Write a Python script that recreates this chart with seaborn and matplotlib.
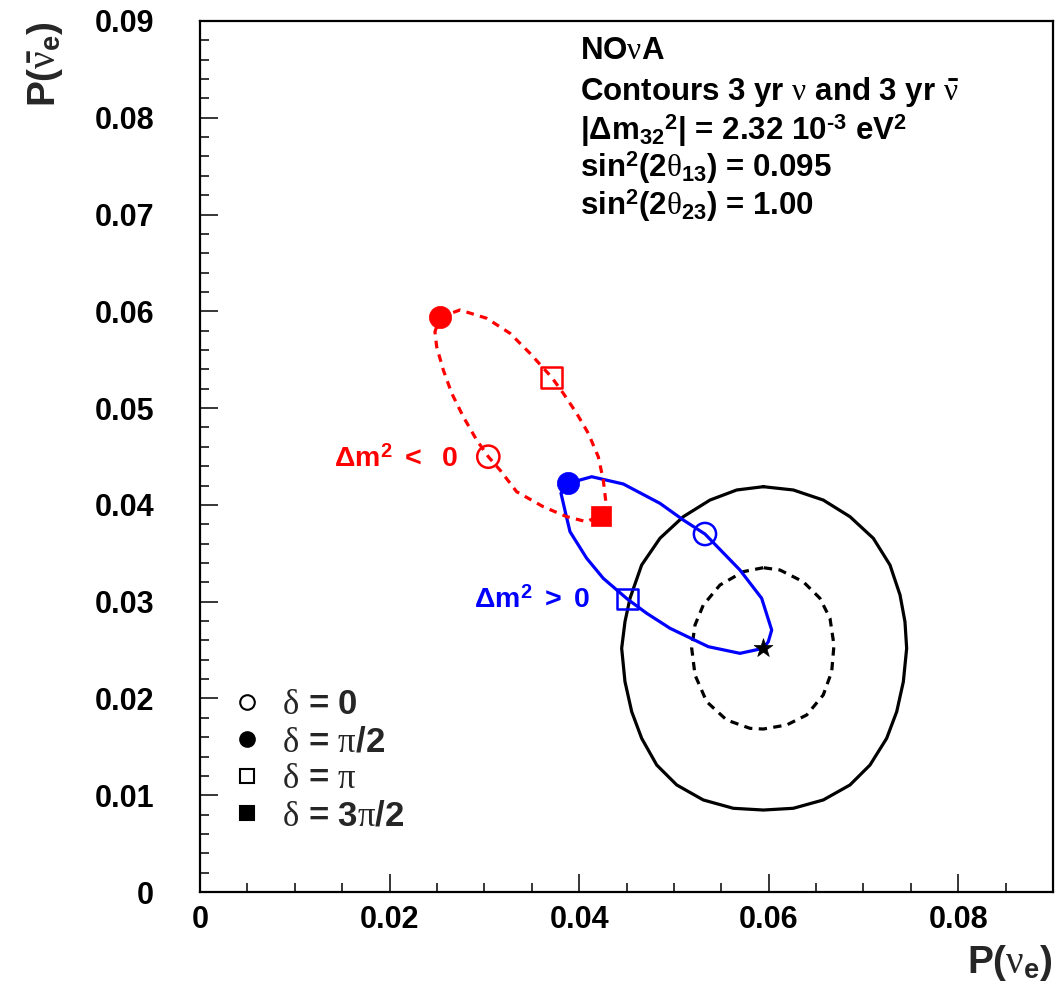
import numpy as np
import pandas as pd
import matplotlib
matplotlib.use("Agg")
import matplotlib.pyplot as plt
import seaborn as sns
from matplotlib.lines import Line2D
from matplotlib.ticker import MultipleLocator, FuncFormatter

# ---------------- data ----------------
# inverted hierarchy (dm^2 < 0) ellipse, dashed red
inv_x = [0.02532, 0.02743, 0.03025, 0.03271, 0.03482, 0.03711, 0.03833, 0.03974,
         0.04097, 0.04202, 0.04255, 0.04284, 0.04228, 0.04080, 0.03869, 0.03622,
         0.03341, 0.03165, 0.03042, 0.02919, 0.02778, 0.02656, 0.02567, 0.02497,
         0.02479]
inv_y = [0.05938, 0.06014, 0.05928, 0.05773, 0.05566, 0.05318, 0.05153, 0.04946,
         0.04740, 0.04498, 0.04257, 0.04016, 0.03895, 0.03826, 0.03878, 0.03981,
         0.04136, 0.04360, 0.04498, 0.04670, 0.04911, 0.05153, 0.05394, 0.05634,
         0.05789]
# normal hierarchy (dm^2 > 0) ellipse, solid blue
nor_x = [0.03886, 0.04133, 0.04466, 0.04853, 0.05099, 0.05328, 0.05697, 0.05926,
         0.06032, 0.05996, 0.05943, 0.05697, 0.05363, 0.04959, 0.04713, 0.04508,
         0.04255, 0.04080, 0.03904, 0.03862, 0.03809]
nor_y = [0.04223, 0.04291, 0.04216, 0.04016, 0.03844, 0.03699, 0.03327, 0.03035,
         0.02707, 0.02586, 0.02518, 0.02466, 0.02535, 0.02725, 0.02880, 0.03028,
         0.03241, 0.03448, 0.03723, 0.03895, 0.04120]
# outer (solid) sensitivity contour
outer_x = [0.05943, 0.05663, 0.05381, 0.05099, 0.04853, 0.04660, 0.04537, 0.04484,
           0.04449, 0.04484, 0.04555, 0.04660, 0.04819, 0.05030, 0.05310, 0.05627,
           0.05943, 0.06260, 0.06576, 0.06858, 0.07069, 0.07245, 0.07351, 0.07421,
           0.07456, 0.07438, 0.07386, 0.07280, 0.07104, 0.06858, 0.06576, 0.06260]
outer_y = [0.04188, 0.04154, 0.04050, 0.03878, 0.03655, 0.03379, 0.03035, 0.02793,
           0.02518, 0.02173, 0.01863, 0.01588, 0.01312, 0.01106, 0.00951, 0.00865,
           0.00847, 0.00865, 0.00951, 0.01106, 0.01312, 0.01588, 0.01863, 0.02173,
           0.02518, 0.02793, 0.03069, 0.03379, 0.03655, 0.03878, 0.04050, 0.04154]
# inner (dashed) sensitivity contour
inner_x = [0.05943, 0.05732, 0.05486, 0.05310, 0.05223, 0.05188, 0.05223, 0.05346,
           0.05557, 0.05803, 0.05943, 0.06190, 0.06401, 0.06576, 0.06665, 0.06689,
           0.06647, 0.06541, 0.06365, 0.06119]
inner_y = [0.03351, 0.03310, 0.03172, 0.02965, 0.02759, 0.02518, 0.02242, 0.01966,
           0.01777, 0.01691, 0.01684, 0.01726, 0.01829, 0.02036, 0.02276, 0.02552,
           0.02828, 0.03035, 0.03206, 0.03327]

# delta-CP points: order delta = 0, pi/2, pi, 3pi/2
delta_labels = [r"$\delta$ = 0", r"$\delta$ = $\pi$/2", r"$\delta$ = $\pi$", r"$\delta$ = 3$\pi$/2"]
delta_markers = ["o", "o", "s", "s"]
delta_filled = [False, True, False, True]
inv_delta_x = [0.03042, 0.02532, 0.03711, 0.04231]
inv_delta_y = [0.04498, 0.05938, 0.05318, 0.03885]
nor_delta_x = [0.05328, 0.03886, 0.04508]
nor_delta_y = [0.03699, 0.04223, 0.03028]
best_x = [0.05943]
best_y = [0.02518]

info_lines = [
    r"NO$\nu$A",
    r"Contours 3 yr $\nu$ and 3 yr $\bar{\nu}$",
    r"$|\Delta\mathrm{m}_{32}{}^{2}|$ = 2.32 10$^{\text{-}3}$ eV$^{2}$",
    r"sin$^{2}$(2$\theta_{13}$) = 0.095",
    r"sin$^{2}$(2$\theta_{23}$) = 1.00",
]

RED = "#ff0000"
BLUE = "#0000ff"

# ---------------- style ----------------
sns.set_theme(style="ticks")
plt.rcParams["font.family"] = ["Liberation Sans", "DejaVu Sans"]
plt.rcParams["font.weight"] = "bold"
plt.rcParams["mathtext.fontset"] = "custom"
plt.rcParams["mathtext.rm"] = "Liberation Sans:weight=bold"
plt.rcParams["mathtext.bf"] = "Liberation Sans:weight=bold"
plt.rcParams["mathtext.sf"] = "Liberation Sans:weight=bold"
plt.rcParams["mathtext.it"] = "Liberation Serif:style=normal:weight=normal"

fig = plt.figure(figsize=(10.59, 9.91), dpi=100)
ax = fig.add_axes([200 / 1059, 1 - 892 / 991, 853 / 1059, 871 / 991])

def closed(a):
    return list(a) + [a[0]]

# contours
sns.lineplot(x=closed(outer_x), y=closed(outer_y), sort=False, estimator=None,
             color="black", linewidth=2.3, ax=ax)
sns.lineplot(x=closed(inner_x), y=closed(inner_y), sort=False, estimator=None,
             color="black", linewidth=2.3, ax=ax)
ax.lines[-1].set_dashes((2.6, 2.0))
sns.lineplot(x=closed(nor_x), y=closed(nor_y), sort=False, estimator=None,
             color=BLUE, linewidth=2.3, ax=ax)
sns.lineplot(x=closed(inv_x), y=closed(inv_y), sort=False, estimator=None,
             color=RED, linewidth=2.3, ax=ax)
ax.lines[-1].set_dashes((2.4, 2.0))

# delta markers
def draw_points(xs, ys, color):
    for i, (xx, yy) in enumerate(zip(xs, ys)):
        size = 16 if delta_markers[i] == "o" else 15
        sns.scatterplot(x=[xx], y=[yy], marker=delta_markers[i], s=size ** 2,
                        color=color, ax=ax, zorder=5)
        coll = ax.collections[-1]
        if delta_filled[i]:
            coll.set_facecolor(color)
            coll.set_edgecolor(color)
            coll.set_linewidth(0.5)
        else:
            coll.set_facecolor("none")
            coll.set_edgecolor(color)
            coll.set_linewidth(1.8)

draw_points(inv_delta_x, inv_delta_y, RED)
draw_points(nor_delta_x, nor_delta_y, BLUE)
sns.scatterplot(x=best_x, y=best_y, marker="*", s=200, color="black",
                edgecolor="black", linewidth=0.5, ax=ax, zorder=6)

# axes
ax.set_xlim(0, 0.09)
ax.set_ylim(0, 0.09)
ax.xaxis.set_major_locator(MultipleLocator(0.02))
ax.xaxis.set_minor_locator(MultipleLocator(0.005))
ax.yaxis.set_major_locator(MultipleLocator(0.01))
ax.yaxis.set_minor_locator(MultipleLocator(0.002))
fmt = FuncFormatter(lambda v, _: "0" if abs(v) < 1e-12 else f"{v:.2f}")
ax.xaxis.set_major_formatter(fmt)
ax.yaxis.set_major_formatter(fmt)
ax.tick_params(which="both", direction="in", top=False, right=False,
               width=1.1, colors="black", labelsize=22)
ax.tick_params(which="major", length=13)
ax.tick_params(which="minor", length=6.5)
ax.tick_params(axis="y", pad=33)
ax.tick_params(axis="x", pad=9)
for sp in ax.spines.values():
    sp.set_visible(True)
    sp.set_linewidth(1.6)
    sp.set_color("black")

ax.set_xlabel(r"P($\nu_{\mathrm{e}}$)", fontsize=28, fontweight="bold", loc="right")
ax.xaxis.set_label_coords(1.0, -0.058)
ax.set_ylabel(r"P($\bar{\nu}_{\mathrm{e}}$)", fontsize=28, fontweight="bold", loc="top")
ax.yaxis.set_label_coords(-0.158, 1.0)

# info text
info_y = [0.9564, 0.9093, 0.8634, 0.8209, 0.7773]
for txt, yy in zip(info_lines, info_y):
    ax.text(0.4455, yy, txt, transform=ax.transAxes, fontsize=22.5,
            fontweight="bold", ha="left", va="baseline", color="black")

ax.text(0.02722, 0.04402, r"$\Delta$m$^{2}$ $<$  0", color=RED, fontsize=20.5,
        fontweight="bold", ha="right", va="baseline")
ax.text(0.04115, 0.02945, r"$\Delta$m$^{2}$ $>$ 0", color=BLUE, fontsize=20.5,
        fontweight="bold", ha="right", va="baseline")

# legend
handles = []
for m, f in zip(delta_markers, delta_filled):
    ms = 10.5 if m == "o" else 9.5
    handles.append(Line2D([], [], marker=m, linestyle="none", markersize=ms,
                          markerfacecolor="black" if f else "white",
                          markeredgecolor="black", markeredgewidth=1.5))
leg = ax.legend(handles, delta_labels, loc="upper left",
                bbox_to_anchor=((232 - 200) / 853, (892 - 688) / 871),
                frameon=False, fontsize=25, handlelength=0.85,
                handletextpad=0.6, labelspacing=0.12, borderaxespad=0,
                borderpad=0)
for t in leg.get_texts():
    t.set_fontweight("bold")

fig.savefig("out.png", dpi=100)
